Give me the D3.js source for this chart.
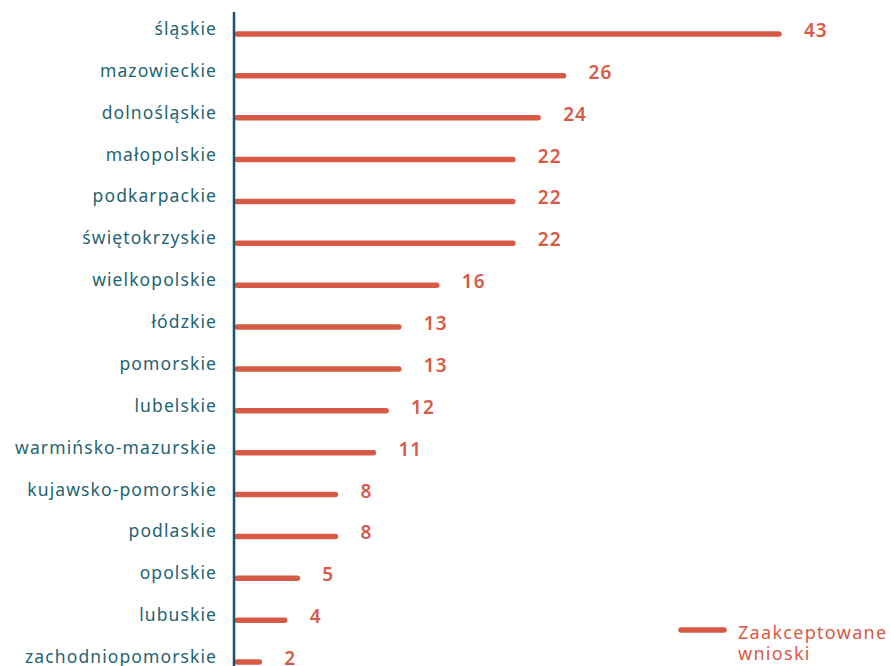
<!DOCTYPE html>
<html>
<head>
<meta charset="utf-8">
<script src="https://cdn.jsdelivr.net/npm/d3@7"></script>
<style>
  body { margin: 0; background: #fff; }
  svg { display: block; }
  .label { font-family: "Noto Sans", sans-serif; font-size: 17.5px; letter-spacing: 1.1px; fill: #1f6472; }
  .value { font-family: "Noto Sans", sans-serif; font-size: 19px; font-weight: 600; letter-spacing: 1px; fill: #d75a46; }
  .legend { font-family: "Noto Sans", sans-serif; font-size: 18px; letter-spacing: 1.3px; fill: #d75a46; }
</style>
</head>
<body>
<div id="chart"></div>
<script>
// województwa, sorted as in the original
var regions = ["śląskie", "mazowieckie", "dolnośląskie", "małopolskie", "podkarpackie",
  "świętokrzyskie", "wielkopolskie", "łódzkie", "pomorskie", "lubelskie",
  "warmińsko-mazurskie", "kujawsko-pomorskie", "podlaskie", "opolskie", "lubuskie",
  "zachodniopomorskie"];
var accepted = [43, 26, 24, 22, 22, 22, 16, 13, 13, 12, 11, 8, 8, 5, 4, 2];
var seriesName = ["Zaakceptowane", "wnioski"];

var width = 891, height = 666;
var axisX = 234;
var barColor = "#d75a46";

var svg = d3.select("#chart").append("svg")
    .attr("width", width)
    .attr("height", height);

var x = d3.scaleLinear()
    .domain([0, 43])
    .range([axisX, axisX + 545]);

var y = d3.scalePoint()
    .domain(regions)
    .range([34, 662]);

var data = regions.map(function(r, i) { return {name: r, value: accepted[i]}; });

// bars (thick lines with round caps)
svg.selectAll(".bar")
    .data(data)
    .enter().append("line")
    .attr("class", "bar")
    .attr("x1", x(0) + 3)
    .attr("x2", function(d) { return x(d.value); })
    .attr("y1", function(d) { return y(d.name); })
    .attr("y2", function(d) { return y(d.name); })
    .attr("stroke", barColor)
    .attr("stroke-width", 5.5)
    .attr("stroke-linecap", "round");

// vertical axis line
svg.append("line")
    .attr("x1", axisX).attr("x2", axisX)
    .attr("y1", 12).attr("y2", height)
    .attr("stroke", "#17566a")
    .attr("stroke-width", 2.5);

// category labels
svg.selectAll(".label")
    .data(data)
    .enter().append("text")
    .attr("class", "label")
    .attr("x", 217)
    .attr("y", function(d) { return y(d.name) + 1; })
    .style("text-anchor", "end")
    .text(function(d) { return d.name; });

// value labels
svg.selectAll(".value")
    .data(data)
    .enter().append("text")
    .attr("class", "value")
    .attr("x", function(d) { return x(d.value) + 25; })
    .attr("y", function(d) { return y(d.name) + 3; })
    .text(function(d) { return d.value; });

// legend
var legend = svg.append("g").attr("transform", "translate(681,630)");
legend.append("line")
    .attr("x1", 0).attr("x2", 43)
    .attr("y1", 0).attr("y2", 0)
    .attr("stroke", barColor)
    .attr("stroke-width", 5.5)
    .attr("stroke-linecap", "round");
legend.selectAll("text")
    .data(seriesName)
    .enter().append("text")
    .attr("class", "legend")
    .attr("x", 57)
    .attr("y", function(d, i) { return 9 + i * 21; })
    .text(function(d) { return d; });
</script>
</body>
</html>
